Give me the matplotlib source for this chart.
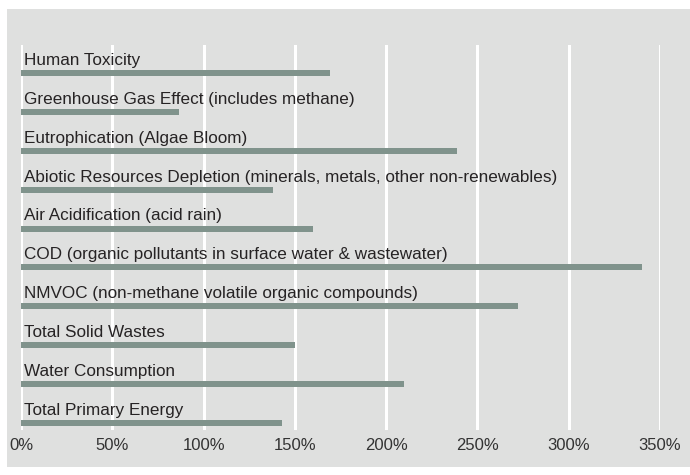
import matplotlib.pyplot as plt
from matplotlib.patches import Rectangle

categories = [
    "Human Toxicity",
    "Greenhouse Gas Effect (includes methane)",
    "Eutrophication (Algae Bloom)",
    "Abiotic Resources Depletion (minerals, metals, other non-renewables)",
    "Air Acidification (acid rain)",
    "COD (organic pollutants in surface water & wastewater)",
    "NMVOC (non-methane volatile organic compounds)",
    "Total Solid Wastes",
    "Water Consumption",
    "Total Primary Energy",
]
values = [169, 86.5, 239, 138, 160, 340, 272, 150, 210, 143]
ticks = [0, 50, 100, 150, 200, 250, 300, 350]
tick_labels = ["0%", "50%", "100%", "150%", "200%", "250%", "300%", "350%"]

bg = "#dfe0df"
bar_col = "#80938c"
txt_col = "#262324"

plt.rcParams['font.family'] = ['Liberation Sans', 'DejaVu Sans']

W, H = 690, 475
fig = plt.figure(figsize=(W / 100, H / 100), dpi=100)
fig.patch.set_facecolor("white")
# grey panel behind the chart
panel = Rectangle((7 / W, 1 - 467 / H), (690 - 7) / W, (467 - 9) / H,
                  transform=fig.transFigure, facecolor=bg,
                  edgecolor="none", zorder=-10)
fig.add_artist(panel)

ax = fig.add_axes([21 / W, 1 - 430 / H, (660 - 21) / W, (430 - 45) / H])
ax.set_facecolor("none")
ax.set_zorder(1)

pos = list(range(len(categories)))
ax.barh(pos, values, height=0.155, left=0, color=bar_col, zorder=3)
for i, lab in zip(pos, categories):
    ax.text(1.7, i - 0.21, lab, fontsize=12.35, color=txt_col, va="baseline",
            ha="left", zorder=4)

ax.set_xlim(0, 350)
ax.set_ylim(9.18, -0.72)
ax.set_xticks(ticks)
ax.set_xticklabels(tick_labels)
ax.set_yticks([])
ax.tick_params(axis="x", length=0, pad=6, labelsize=12, labelcolor="#333333")
ax.grid(axis="x", color="white", linewidth=2.2, zorder=1)
ax.set_axisbelow(True)
for s in ax.spines.values():
    s.set_visible(False)

fig.savefig("out.png", dpi=100)
